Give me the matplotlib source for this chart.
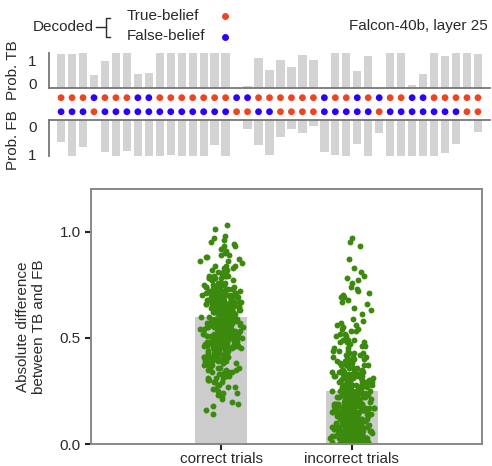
import numpy as np
import matplotlib
matplotlib.use("Agg")
from matplotlib import pyplot as plt
from matplotlib.lines import Line2D

plt.rcParams['font.family'] = ['Liberation Sans', 'DejaVu Sans']
plt.rcParams['text.color'] = '#2a2a2a'

# ---------------------------------------------------------------- data
prob_tb = [0.96, 0.98, 1.00, 0.36, 0.78, 0.99, 1.00, 0.40, 0.42, 1.00,
           0.99, 1.00, 1.00, 1.00, 1.00, 1.00, 0.00, 0.07, 0.87, 0.52,
           0.79, 0.61, 0.95, 0.81, 0.00, 1.00, 1.00, 0.48, 0.91, 0.00,
           1.00, 1.00, 0.09, 0.41, 1.00, 0.91, 1.00, 1.00, 0.97]
prob_fb = [0.62, 1.00, 0.75, 0.00, 0.89, 1.00, 0.85, 1.00, 1.00, 1.00,
           0.96, 1.00, 0.99, 1.00, 0.69, 1.00, 0.00, 0.25, 0.69, 0.97,
           0.48, 0.25, 0.37, 0.17, 0.89, 0.97, 1.00, 0.68, 1.00, 0.35,
           1.00, 1.00, 1.00, 1.00, 1.00, 0.93, 0.67, 0.00, 0.33]
# decoded label per trial: "T" true-belief, "F" false-belief
decoded_tb = "TTTFTTTFFTTTTTTTFFTTTTTTFTTFTFTTFFTTTTT"
decoded_fb = "FFFTFFFFFFFFFFFFTTFFTTTTFFFFFTFFFFFFFTT"

categories = ["correct trials", "incorrect trials"]
bar_means = [0.60, 0.25]

correct_trials = """
14 16 18 19 20 21 22 23 24 24
25 26 26 27 27 28 28 29 29 29
30 30 31 31 31 32 32 33 33 33 34 34 34 34
35 35 35 36 36 36 36 37 37 37 37 38 38 38 38 39 39 39 39 39
40 40 40 40 40 41 41 41 41 41 42 42 42 42 42 43 43 43 43 43 44 44 44 44 44 44
45 45 45 45 45 45 46 46 46 46 46 46 47 47 47 47 47 47 47 48 48 48 48 48 48 49 49 49 49 49 49 49
50 50 50 50 50 50 50 51 51 51 51 51 51 51 52 52 52 52 52 52 52 53 53 53 53 53 53 53 54 54 54 54 54 54
55 55 55 55 55 55 55 56 56 56 56 56 56 57 57 57 57 57 57 57 58 58 58 58 58 58 59 59 59 59 59 59
60 60 60 60 60 60 61 61 61 61 61 61 62 62 62 62 62 62 63 63 63 63 63 63 64 64 64 64 64 64
65 65 65 65 65 65 66 66 66 66 66 66 67 67 67 67 67 67 68 68 68 68 68 68 69 69 69 69 69 69
70 70 70 70 70 71 71 71 71 71 72 72 72 72 72 73 73 73 73 73 74 74 74 74
75 75 75 76 76 76 77 77 77 78 78 78 79 79 79 79
80 80 81 81 82 82 83 83 84 84 84
85 86 86 87 88 88 89 89
90 91 92 93 93 94
95 96 97 98 101 103
40 41 42 43 44 45 46 47 48 49 50 51 52 53 54 55 56 57 58 59
60 61 62 63 64 65 66 67 68 69 70 71 72 73 74 75 76 77 78 79
45 46 47 48 49 50 51 52 53 54 55 56 57 58 59 60 61 62 63 64
65 66 67 68 69 70 71 72 50 52 54 56 58 60 62 64 66 68 70 72
74 48 53 57 61 65 69 73
"""
incorrect_trials = """
00 00 00 01 01 01 01 01 01 01 01 02 02 02 02 02 02 02 02 02
03 03 03 03 03 03 03 03 03 03 04 04 04 04 04 04 04 04 04 04
05 05 05 05 05 05 05 05 06 06 06 06 06 06 06 07 07 07 07 07 07 07
08 08 08 08 08 08 08 09 09 09 09 09 09 09
10 10 10 10 10 10 10 11 11 11 11 11 11 11 12 12 12 12 12 12 12
13 13 13 13 13 13 13 14 14 14 14 14 14
15 15 15 15 15 15 15 16 16 16 16 16 16 17 17 17 17 17 17 17 18 18 18 18 18 18 19 19 19 19 19 19
20 20 20 20 20 20 21 21 21 21 21 21 22 22 22 22 22 22 23 23 23 23 23 23 24 24 24 24 24 24
25 25 25 25 25 25 26 26 26 26 26 27 27 27 27 27 27 28 28 28 28 28 29 29 29 29 29
30 30 30 30 30 31 31 31 31 31 32 32 32 32 32 33 33 33 33 33 34 34 34 34
35 35 35 35 36 36 36 36 37 37 37 37 38 38 38 38 39 39 39 39
40 40 40 40 41 41 41 42 42 42 43 43 43 44 44 44
45 45 46 46 47 47 48 48 48 49 49 49
50 51 51 52 52 53 53 54 54
55 56 56 57 58 59
61 63 64 66 67 68 69 69
70 71 72 73 74 76 77 78 79
81 83 87 93 95 97
00 01 01 02 02 03 03 03 04 04 04 05 05 05 06 06 06 07 07 07
08 08 08 09 09 09 10 10 10 11 11 11 12 12 12 13 13 13 14 14
14 15 15 15 16 16 16 17 17 17 18 18 18 19 19 19 20 20 20 21
21 21 22 22 22 23 23 23 24 24 25 25 26 26 27 27 28 28 29 29
30 30 31 31 32 32 33 33 34 34 02 04 06 08 10 12 14 16 18 20
22 24 03 05 07 09 11 13 15 17 19 21 23 25
"""
trial_values = [np.array(correct_trials.split(), dtype=float) / 100,
                np.array(incorrect_trials.split(), dtype=float) / 100]

# ---------------------------------------------------------------- layout
W, H = 492, 466
RED, BLUE, GREEN = '#ee4422', '#2a00ff', '#3b8a0e'
LINE = '#777777'


def box(l, t, r, b):
    return [l / W, 1 - b / H, (r - l) / W, (b - t) / H]


def px(x, y):
    return x / W, 1 - y / H


def spread(n, seed):
    # deterministic hash-based offsets in [-0.5, 0.5], peaked at the centre
    i = np.arange(n) + seed
    h1 = (np.sin(i * 12.9898) * 43758.5453) % 1
    h2 = (np.sin(i * 78.233) * 24634.6345) % 1
    return (h1 + h2) / 2 - 0.5


fig = plt.figure(figsize=(W / 100, H / 100), dpi=100)

ax_tb = fig.add_axes(box(49, 53, 490, 88))
ax_dot = fig.add_axes(box(49, 88, 490, 120))
ax_fb = fig.add_axes(box(49, 120, 490, 156))
ax = fig.add_axes(box(91, 189, 482, 444))

xs = np.arange(len(prob_tb))
col = {"T": RED, "F": BLUE}

ax_tb.bar(xs, prob_tb, width=0.76, color='#d3d3d3')
ax_tb.set_ylim(0, 1)
ax_tb.set_yticks([0.14, 0.8], ['0', '1'])

ax_fb.bar(xs, prob_fb, width=0.76, color='#d3d3d3')
ax_fb.set_ylim(1, 0)
ax_fb.set_yticks([0.17, 0.95], ['0', '1'])

for a, shown in ((ax_tb, ('left', 'bottom')), (ax_fb, ('left', 'top'))):
    a.set_xlim(-1.1, 39.1)
    a.set_xticks([])
    for s in a.spines:
        a.spines[s].set_visible(s in shown)
        a.spines[s].set_color(LINE)
        a.spines[s].set_linewidth(1.3)
    a.tick_params(axis='y', length=0, pad=9, labelsize=11, labelcolor='#2a2a2a')

ax_dot.scatter(xs, np.ones(len(xs)), s=24, c=[col[d] for d in decoded_tb], linewidths=0)
ax_dot.scatter(xs, np.zeros(len(xs)), s=24, c=[col[d] for d in decoded_fb], linewidths=0)
ax_dot.set_xlim(-1.1, 39.1)
ax_dot.set_ylim(-0.59, 1.69)
ax_dot.axis('off')

fig.text(*px(13, 70), "Prob. TB", rotation=90, ha='center', va='center', fontsize=11)
fig.text(*px(13, 140), "Prob. FB", rotation=90, ha='center', va='center', fontsize=11)

# legend
fig.text(*px(33, 27), "Decoded", ha='left', va='center', fontsize=11)
fig.add_artist(Line2D([96 / W, 106 / W], [1 - 27 / H] * 2, color='#2a2a2a', lw=1))
bx = np.array([110, 106, 106, 110]) / W
by = 1 - np.array([18, 18, 37, 37]) / H
fig.add_artist(Line2D(bx, by, color='#2a2a2a', lw=1))
fig.text(*px(127, 16), "True-belief", ha='left', va='center', fontsize=11)
fig.text(*px(127, 36), "False-belief", ha='left', va='center', fontsize=11)
fig.add_artist(Line2D([225 / W], [1 - 16 / H], marker='o', ms=5, color=RED, mew=0))
fig.add_artist(Line2D([225 / W], [1 - 37 / H], marker='o', ms=5, color=BLUE, mew=0))
fig.text(*px(488, 26), "Falcon-40b, layer 25", ha='right', va='center', fontsize=11)

# ---------------------------------------------------------------- main panel
ax.bar(range(len(categories)), bar_means, width=0.4, color='#cccccc', zorder=1)
for i, vals in enumerate(trial_values):
    ax.scatter(i + spread(len(vals), 7 + 500 * i) * 0.36, vals, s=18, color=GREEN,
               linewidths=0, zorder=2)

ax.set_xlim(-1, 2)
ax.set_ylim(0, 1.2)
ax.set_yticks([0, 0.5, 1.0], ['0.0', '0.5', '1.0'])
ax.set_xticks(range(len(categories)), categories)
for s in ax.spines.values():
    s.set_color('#888888')
    s.set_linewidth(1.4)
ax.tick_params(length=4, width=1.5, color='#222222', labelsize=11, labelcolor='#2a2a2a')
ax.tick_params(axis='x', pad=1.5)

fig.text(*px(31, 327), "Absolute difference\nbetween TB and FB", rotation=90,
         ha='center', va='center', fontsize=11, linespacing=1.15)

plt.savefig("out.png", dpi=100)
